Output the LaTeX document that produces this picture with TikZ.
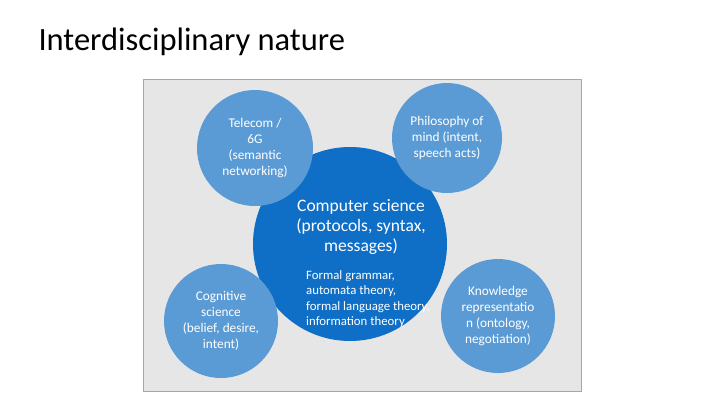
\documentclass[tikz,border=0pt]{standalone}
\usepackage{fontspec}
\setmainfont{Carlito}
\begin{document}
\begin{tikzpicture}[x=1pt,y=-1pt,
  small/.style={circle,fill=c2,draw=none,minimum size=114pt,text=white,align=center,font=\fontsize{13.3}{16}\selectfont,inner sep=0pt}]
\definecolor{c1}{HTML}{0F6FC6}
\definecolor{c2}{HTML}{5B9BD5}
\definecolor{bg}{HTML}{E7E6E6}
\useasboundingbox (0,0) rectangle (720,405);
\node[anchor=west,font=\fontsize{32.5}{36}\selectfont] (title) at (35,42) {Interdisciplinary nature};
\node[draw=gray!70,fill=bg,minimum width=438pt,minimum height=312pt,inner sep=0pt] (bgr) at (362,235) {};
\node[circle,fill=c1,minimum size=194pt,inner sep=0pt] (cs) at (350,244) {};
\node[small,minimum size=116pt] (tel) at (255,148) {Telecom /\\6G\\(semantic\\networking)};
\node[small,minimum size=110pt] (phil) at (447,138) {Philosophy of\\mind (intent,\\speech acts)};
\node[small] (cog) at (221,321) {Cognitive\\science\\(belief, desire,\\intent)};
\node[small] (kr) at (498,316) {Knowledge\\representatio\\n (ontology,\\negotiation)};
\node[text=white,align=center,font=\fontsize{17.5}{20}\selectfont] (cst) at (361,227) {Computer science\\(protocols, syntax,\\messages)};
\node[text=white,align=left,anchor=north west,font=\fontsize{12.8}{15.5}\selectfont,inner sep=0pt] (cst2) at (306,270) {Formal grammar,\\automata theory,\\formal language theory,\\information theory};
\end{tikzpicture}
\end{document}
